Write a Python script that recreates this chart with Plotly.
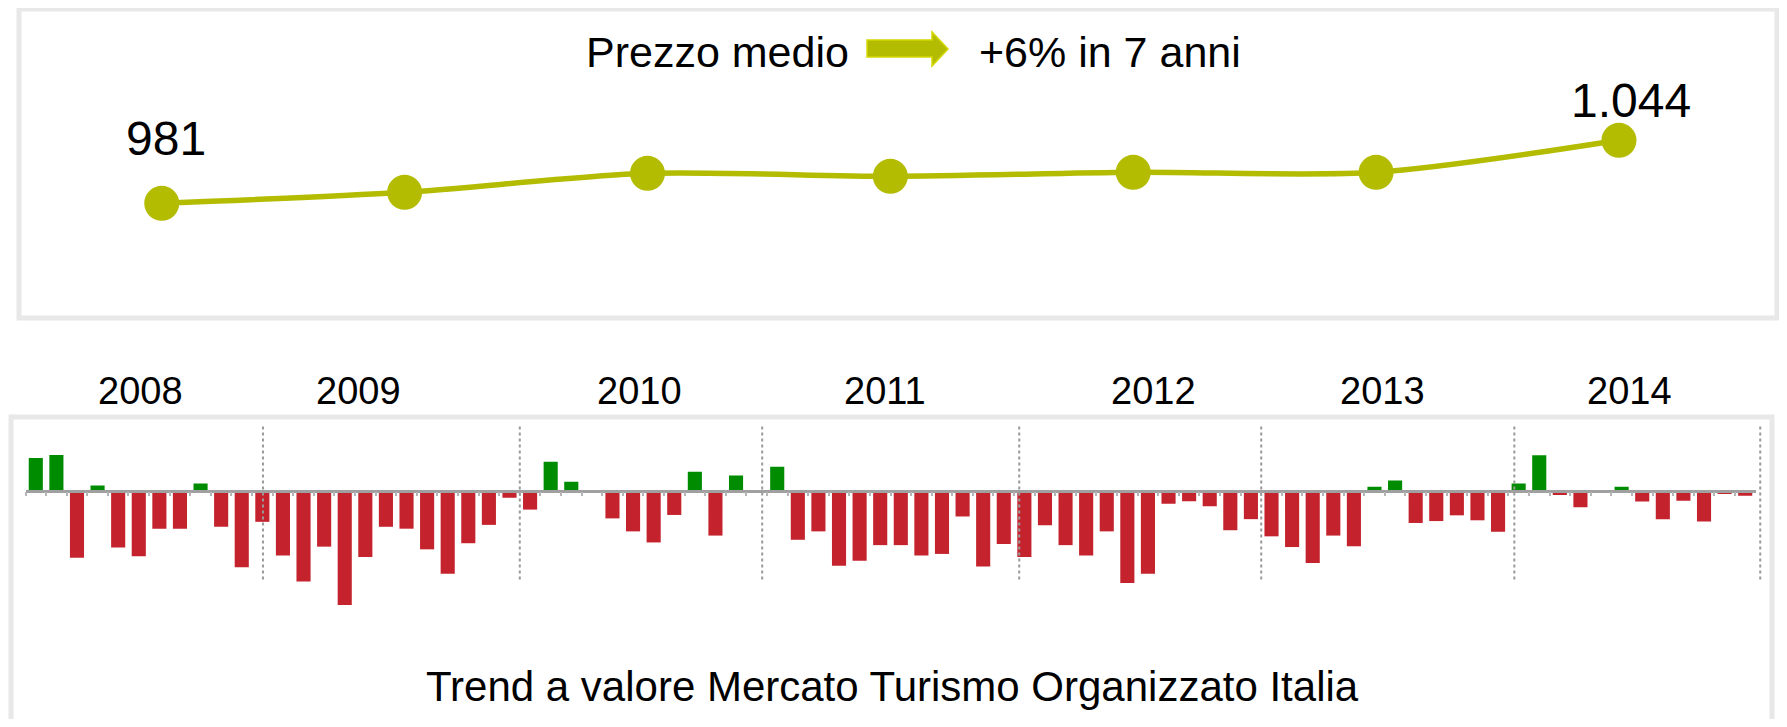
import plotly.graph_objects as go

# the page body has an 8px margin: the figure is sized to fit inside it
OFF = 8
W, H = 1787 - 2 * OFF, 727 - 2 * OFF

# ---------------- data ----------------
years = ["2008", "2009", "2010", "2011", "2012", "2013", "2014"]
avg_price = [981, 992, 1011, 1008, 1012, 1012, 1044]

months = [f"{y}-{m:02d}" for y in years for m in range(1, 13)]
trend_2008 = [8.5, 9.3, -17.6, 1.3, -14.9, -17.2, -10.0, -10.0, 1.8, -9.5, -20.1, -8.2]
trend_2009 = [-17.0, -23.8, -14.7, -30.0, -17.4, -9.5, -10.0, -15.4, -21.8, -13.8, -9.0, -1.9]
trend_2010 = [-5.0, 7.5, 2.3, -0.3, -7.3, -10.7, -13.6, -6.4, 4.9, -11.8, 3.9, -0.3]
trend_2011 = [6.2, -12.9, -10.7, -19.7, -18.4, -14.3, -14.3, -17.0, -16.6, -6.8, -19.9, -14.0]
trend_2012 = [-17.4, -9.1, -14.3, -17.0, -10.7, -24.2, -21.8, -3.5, -2.8, -4.1, -10.4, -7.5]
trend_2013 = [-12.0, -14.8, -19.0, -11.8, -14.6, 1.0, 2.6, -8.5, -8.0, -6.5, -7.8, -10.8]
trend_2014 = [1.8, 9.2, -1.2, -4.4, 0.0, 1.0, -2.9, -7.5, -2.7, -8.1, -0.9, -1.4]
trend = trend_2008 + trend_2009 + trend_2010 + trend_2011 + trend_2012 + trend_2013 + trend_2014

# ---------------- styling positions (in bar-index units) ----------------
year_label_pos = [5.08, 15.65, 29.3, 41.24, 54.26, 65.38, 77.4]
separator_pos = [11.03, 23.5, 35.27, 47.75, 59.5, 71.79, 83.73]

GREEN = "#008C00"
RED = "#C4232D"
OLIVE = "#B3BC00"
FONT = "Arial, Liberation Sans, sans-serif"


def px(x):
    return (x - OFF) / W


def py(y):
    return 1 - (y - OFF) / H


# bar subplot geometry (page pixels)
bar_x0, bar_x1 = 25.5, 1755.5
bar_top, bar_bot = 426, 640
zero_y = 490.5
k = 3.82  # px per unit
bar_yrange = [-(bar_bot - zero_y) / k, (zero_y - bar_top) / k]

# line subplot geometry (page pixels)
line_x0, line_x1 = 40.3, 1740.4
line_top, line_bot = 20, 300
p0_y = 203.3
line_yrange = [avg_price[0] - (line_bot - p0_y), avg_price[0] + (p0_y - line_top)]

fig = go.Figure()

fig.add_trace(go.Bar(
    x=months, y=trend,
    marker=dict(color=[GREEN if v > 0 else RED for v in trend], line=dict(width=0)),
    xaxis="x", yaxis="y", showlegend=False,
))

fig.add_trace(go.Scatter(
    x=years, y=avg_price, mode="lines+markers",
    line=dict(color=OLIVE, width=5.5, shape="spline", smoothing=0.8),
    marker=dict(color=OLIVE, size=35),
    xaxis="x2", yaxis="y2", showlegend=False,
))


def fmt(v):
    return f"{v:,}".replace(",", ".")


annotations = [
    dict(x=0, y=avg_price[0], xref="x2", yref="y2", text=fmt(avg_price[0]),
         showarrow=False, xshift=4.3, yshift=64.9, font=dict(size=48, color="black", family=FONT)),
    dict(x=len(years) - 1, y=avg_price[-1], xref="x2", yref="y2", text=fmt(avg_price[-1]),
         showarrow=False, xshift=11.6, yshift=39.6, font=dict(size=48, color="black", family=FONT)),
    dict(x=px(851), y=py(52), xref="paper", yref="paper", xanchor="right", yanchor="middle",
         text="Prezzo medio", showarrow=False, font=dict(size=43, color="black", family=FONT)),
    dict(x=px(977), y=py(52), xref="paper", yref="paper", xanchor="left", yanchor="middle",
         text="+6% in 7 anni", showarrow=False, font=dict(size=43, color="black", family=FONT)),
    dict(x=px(892), y=py(686), xref="paper", yref="paper", xanchor="center", yanchor="middle",
         text="Trend a valore Mercato Turismo Organizzato Italia", showarrow=False,
         font=dict(size=42, color="black", family=FONT)),
]
for yr, pos in zip(years, year_label_pos):
    annotations.append(dict(x=pos, y=py(390.8), xref="x", yref="paper", text=yr,
                            showarrow=False, yanchor="middle",
                            font=dict(size=38, color="black", family=FONT)))

shapes = []
# panel frames
shapes.append(dict(type="rect", xref="paper", yref="paper", x0=px(19), x1=px(1777), y0=py(9), y1=py(318),
                   line=dict(color="#e8e8e8", width=5), layer="below"))
shapes.append(dict(type="rect", xref="paper", yref="paper", x0=px(11), x1=px(1772), y0=py(417), y1=py(725),
                   line=dict(color="#e8e8e8", width=5), layer="below"))
# separators
d0, d1 = px(bar_x0), px(bar_x1)
for s in separator_pos:
    xp = d0 + (s + 0.5) / 84 * (d1 - d0)
    shapes.append(dict(type="line", xref="paper", yref="paper", x0=xp, x1=xp, y0=py(426.5), y1=py(581.5),
                       line=dict(color="#9a9a9a", width=2, dash="dot"), layer="above"))
# arrow
arrow = (f"M {px(867)} {py(40)} L {px(932)} {py(40)} L {px(932)} {py(32)} L {px(948)} {py(49)} "
         f"L {px(932)} {py(66)} L {px(932)} {py(57)} L {px(867)} {py(57)} Z")
shapes.append(dict(type="path", xref="paper", yref="paper", path=arrow,
                   fillcolor=OLIVE, line=dict(color="#D4D800", width=1.5)))

fig.update_layout(
    width=W, height=H,
    margin=dict(l=0, r=0, t=0, b=0),
    paper_bgcolor="white", plot_bgcolor="rgba(0,0,0,0)",
    bargap=0.315,
    xaxis=dict(domain=[d0, d1], type="category", range=[-0.5, 83.5], anchor="free",
               position=py(zero_y), showline=True, linecolor="#a0a0a0", linewidth=2.5,
               ticks="outside", tickson="boundaries", ticklen=4, tickwidth=2, tickcolor="#b5b5b5",
               showticklabels=False, showgrid=False, zeroline=False, fixedrange=True),
    yaxis=dict(domain=[py(bar_bot), py(bar_top)], range=bar_yrange, anchor="x", visible=False,
               showgrid=False, zeroline=False),
    xaxis2=dict(domain=[px(line_x0), px(line_x1)], type="category", range=[-0.5, 6.5], anchor="y2",
                visible=False, showgrid=False),
    yaxis2=dict(domain=[py(line_bot), py(line_top)], range=line_yrange, anchor="x2", visible=False,
                showgrid=False),
    annotations=annotations,
    shapes=shapes,
    font=dict(family=FONT),
)

fig.write_html("out.html")
